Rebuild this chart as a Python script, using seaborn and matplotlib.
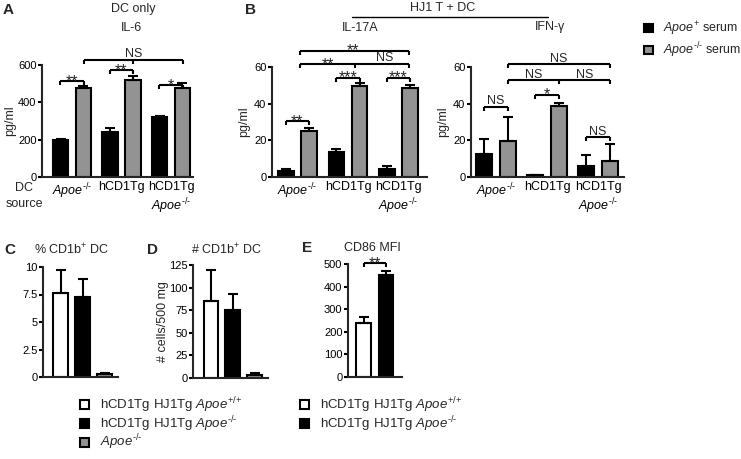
import numpy as np
import pandas as pd
import matplotlib
matplotlib.use("Agg")
import matplotlib.pyplot as plt
import seaborn as sns
from matplotlib.patches import Patch
from matplotlib.lines import Line2D
from matplotlib.ticker import FuncFormatter

sns.set_theme(style="ticks")
plt.rcParams["font.family"] = ["Liberation Sans", "DejaVu Sans"]
plt.rcParams["mathtext.fontset"] = "custom"
plt.rcParams["mathtext.rm"] = "Liberation Sans"
plt.rcParams["mathtext.it"] = "Liberation Sans:italic"
plt.rcParams["mathtext.bf"] = "Liberation Sans:bold"
plt.rcParams["axes.linewidth"] = 1.5

KO = r"$\mathit{Apoe}^{\text{-/-}}$"
WT = r"$\mathit{Apoe}^{\text{+/+}}$"

# ---- data ----
dc_groups = [KO, "hCD1Tg", "hCD1Tg\n" + KO]
serum = [r"$\mathit{Apoe}^{+}$ serum", KO + " serum"]

il6_pos = [200, 240, 320]
il6_pos_err = [6, 20, 5]
il6_ko = [475, 522, 475]
il6_ko_err = [12, 18, 28]

il17_pos = [3.1, 13.4, 4.5]
il17_pos_err = [1.4, 2.1, 1.5]
il17_ko = [25, 49.7, 48.5]
il17_ko_err = [2.0, 1.7, 1.8]

ifn_pos = [12.7, 1.0, 5.8]
ifn_pos_err = [8.2, 0.3, 6.0]
ifn_ko = [19.6, 38.7, 9.0]
ifn_ko_err = [13.4, 1.5, 9.0]

mice = ["hCD1Tg HJ1Tg " + WT, "hCD1Tg HJ1Tg " + KO, KO]
pct_cd1b = [7.6, 7.3, 0.25]
pct_cd1b_err = [2.1, 1.6, 0.15]
n_cd1b = [85, 75, 3.7]
n_cd1b_err = [34.5, 18, 2.2]
cd86_mfi = [240, 451]
cd86_mfi_err = [26, 19]

BLACK = "#000000"
GRAY = "#939393"
WHITE = "#ffffff"

W, H = 741, 459
fig = plt.figure(figsize=(W / 100, H / 100), dpi=100)


def rect(l, r, t, b):
    return [l / W, 1 - b / H, (r - l) / W, (b - t) / H]


def style(ax, ylim, yticks, xlim):
    ax.set_ylim(*ylim)
    ax.set_yticks(yticks)
    ax.yaxis.set_major_formatter(FuncFormatter(lambda v, p: f"{v:g}"))
    ax.set_xlim(*xlim)
    ax.set_xlabel("")
    ax.set_ylabel("")
    sns.despine(ax=ax)
    ax.tick_params(axis="y", length=3, width=1.5, pad=1, labelsize=8, colors="black")
    ax.tick_params(axis="x", length=0, pad=3, labelsize=9, colors="black")


def add_err(ax, errs):
    for cont, err in zip(ax.containers, errs):
        xs = [b.get_x() + b.get_width() / 2 for b in cont]
        ys = [b.get_height() for b in cont]
        ax.errorbar(xs, ys, yerr=[np.zeros(len(err)), err], fmt="none",
                    ecolor="black", elinewidth=1.5, capsize=3.6, capthick=1.5,
                    zorder=3, clip_on=False)


def bracket(ax, xs, y, labels, label_xs, tick_px=4):
    y0, y1 = ax.get_ylim()
    upp = (y1 - y0) / (ax.get_position().height * H)
    t = tick_px * upp
    ax.plot([xs[0], xs[-1]], [y, y], color="black", lw=1.5, clip_on=False,
            solid_capstyle="butt")
    for x in xs:
        ax.plot([x, x], [y, y - t], color="black", lw=1.5, clip_on=False,
                solid_capstyle="butt")
    for lab, lx in zip(labels, label_xs):
        if lab == "NS":
            ax.text(lx, y + 2.5 * upp, lab, ha="center", va="baseline",
                    fontsize=9, clip_on=False)
        else:
            ax.text(lx, y - 5 * upp, lab, ha="center", va="baseline",
                    fontsize=11.5, clip_on=False)


def cytokine(ax, pos, ko, pos_err, ko_err):
    df = pd.DataFrame({"group": dc_groups * 2,
                       "serum": [serum[0]] * 3 + [serum[1]] * 3,
                       "value": pos + ko})
    sns.barplot(data=df, x="group", y="value", hue="serum", order=dc_groups,
                hue_order=serum, palette=[BLACK, GRAY], errorbar=None,
                width=0.92, gap=0.33, edgecolor="black", linewidth=1.5,
                legend=False, ax=ax)
    add_err(ax, [pos_err, ko_err])
    for lab in ax.get_xticklabels():
        lab.set_multialignment("center")


# ---- A: IL-6 ----
axA = fig.add_axes(rect(42, 193, 65, 177))
cytokine(axA, il6_pos, il6_ko, il6_pos_err, il6_ko_err)
style(axA, (0, 600), [0, 200, 400, 600], (-0.606, 2.444))
axA.set_ylabel("pg/ml", fontsize=9, labelpad=1)
o = 0.24
bracket(axA, [0 - o, 0 + o], 515, ["**"], [0])
bracket(axA, [1 - o, 1 + o], 572, ["**"], [1])
bracket(axA, [2 - o, 2 + o], 492, ["*"], [2])
bracket(axA, [0 + o, 1 + o, 2 + o], 627, ["NS"], [1 + o])

# ---- B: IL-17A ----
axB1 = fig.add_axes(rect(272, 427, 67, 177))
cytokine(axB1, il17_pos, il17_ko, il17_pos_err, il17_ko_err)
style(axB1, (0, 60), [0, 20, 40, 60], (-0.505, 2.564))
axB1.set_ylabel("pg/ml", fontsize=9, labelpad=3)
o = 0.23
bracket(axB1, [0 - o, 0 + o], 30.7, ["**"], [0])
bracket(axB1, [1 - o, 1 + o], 54.2, ["***"], [1])
bracket(axB1, [2 - o, 2 + o], 54.2, ["***"], [2])
bracket(axB1, [0.05, 1.14, 2.2], 61.8, ["**", "NS"], [0.6, 1.72])
bracket(axB1, [0.05, 2.2], 69, ["**"], [1.1])

# ---- B: IFN-gamma ----
axB2 = fig.add_axes(rect(471, 624, 67, 177))
cytokine(axB2, ifn_pos, ifn_ko, ifn_pos_err, ifn_ko_err)
style(axB2, (0, 60), [0, 20, 40, 60], (-0.49, 2.51))
axB2.set_ylabel("pg/ml", fontsize=9, labelpad=3)
o = 0.23
bracket(axB2, [0 - o, 0 + o], 38.2, ["NS"], [0])
bracket(axB2, [1 - o, 1 + o], 45, ["*"], [1])
bracket(axB2, [2 - o, 2 + o], 21.8, ["NS"], [2])
bracket(axB2, [0 + o, 1 + o, 2 + o], 52.7, ["NS", "NS"], [0.5 + o, 1.5 + o])
bracket(axB2, [0 + o, 2 + o], 61.5, ["NS"], [1 + o])


def single(ax, names, vals, errs, colors):
    df = pd.DataFrame({"mouse": names, "value": vals})
    sns.barplot(data=df, x="mouse", y="value", hue="mouse", order=names,
                hue_order=names, palette=colors, errorbar=None, width=0.66,
                edgecolor="black", linewidth=1.5, legend=False, ax=ax)
    bars = sorted(ax.patches, key=lambda b: b.get_x())
    xs = [b.get_x() + b.get_width() / 2 for b in bars]
    ax.errorbar(xs, vals, yerr=[np.zeros(len(errs)), errs], fmt="none",
                ecolor="black", elinewidth=1.5, capsize=3.6, capthick=1.5,
                zorder=3, clip_on=False)


# ---- C ----
axC = fig.add_axes(rect(43, 118, 267, 377))
single(axC, mice, pct_cd1b, pct_cd1b_err, [WHITE, BLACK, GRAY])
style(axC, (0, 10), [0, 2.5, 5, 7.5, 10], (-0.795, 2.61))
axC.set_xticks([])

# ---- D ----
axD = fig.add_axes(rect(193, 268, 265, 378))
single(axD, mice, n_cd1b, n_cd1b_err, [WHITE, BLACK, GRAY])
style(axD, (0, 125), [0, 25, 50, 75, 100, 125], (-0.81, 2.61))
axD.set_xticks([])
axD.set_ylabel("# cells/500 mg", fontsize=9, labelpad=0)

# ---- E ----
axE = fig.add_axes(rect(348, 402, 264, 377))
single(axE, mice[:2], cd86_mfi, cd86_mfi_err, [WHITE, BLACK])
style(axE, (0, 500), [0, 100, 200, 300, 400, 500], (-0.69, 1.71))
axE.set_xticks([])
bracket(axE, [0, 1], 503, ["**"], [0.5])


# ---- titles & labels ----
def ftext(x, y, s, **kw):
    kw.setdefault("fontsize", 9)
    kw.setdefault("ha", "center")
    kw.setdefault("va", "center")
    fig.text(x / W, 1 - y / H, s, **kw)


for letter, x, y in [("A", 3, 10), ("B", 245, 10), ("C", 4, 250),
                     ("D", 147, 250), ("E", 302, 248)]:
    ftext(x, y, letter, ha="left", fontsize=11, fontweight="bold")

ftext(133, 9, "DC only")
ftext(132, 28, "IL-6")
ftext(443, 8, "HJ1 T + DC")
fig.add_artist(Line2D([352 / W, 548 / W], [1 - 16.5 / H, 1 - 16.5 / H],
                      color="black", lw=1.0))
ftext(360, 28, "IL-17A")
ftext(550, 27, "IFN-γ")
ftext(24, 196, "DC\nsource", multialignment="center", linespacing=1.35)
ftext(72, 250, r"% CD1b$^{+}$ DC")
ftext(226, 250, r"# CD1b$^{+}$ DC")
ftext(372, 248, "CD86 MFI")


# ---- legends ----
def sq(c):
    return Patch(facecolor=c, edgecolor="black", linewidth=1.5)


leg_kw = dict(frameon=False, handlelength=0.7, handleheight=0.7,
              handletextpad=0.8, borderpad=0, borderaxespad=0, loc="upper left")
fig.legend([sq(BLACK), sq(GRAY)], serum, bbox_to_anchor=(644 / W, 1 - 20 / H),
           fontsize=9, labelspacing=0.2, **leg_kw)
fig.legend([sq(WHITE), sq(BLACK), sq(GRAY)], mice,
           bbox_to_anchor=(80 / W, 1 - 395 / H), fontsize=9.5, labelspacing=-0.05,
           **leg_kw)
fig.legend([sq(WHITE), sq(BLACK)], mice[:2],
           bbox_to_anchor=(300 / W, 1 - 395 / H), fontsize=9.5, labelspacing=-0.05,
           **leg_kw)

fig.savefig("out.png", dpi=100)
